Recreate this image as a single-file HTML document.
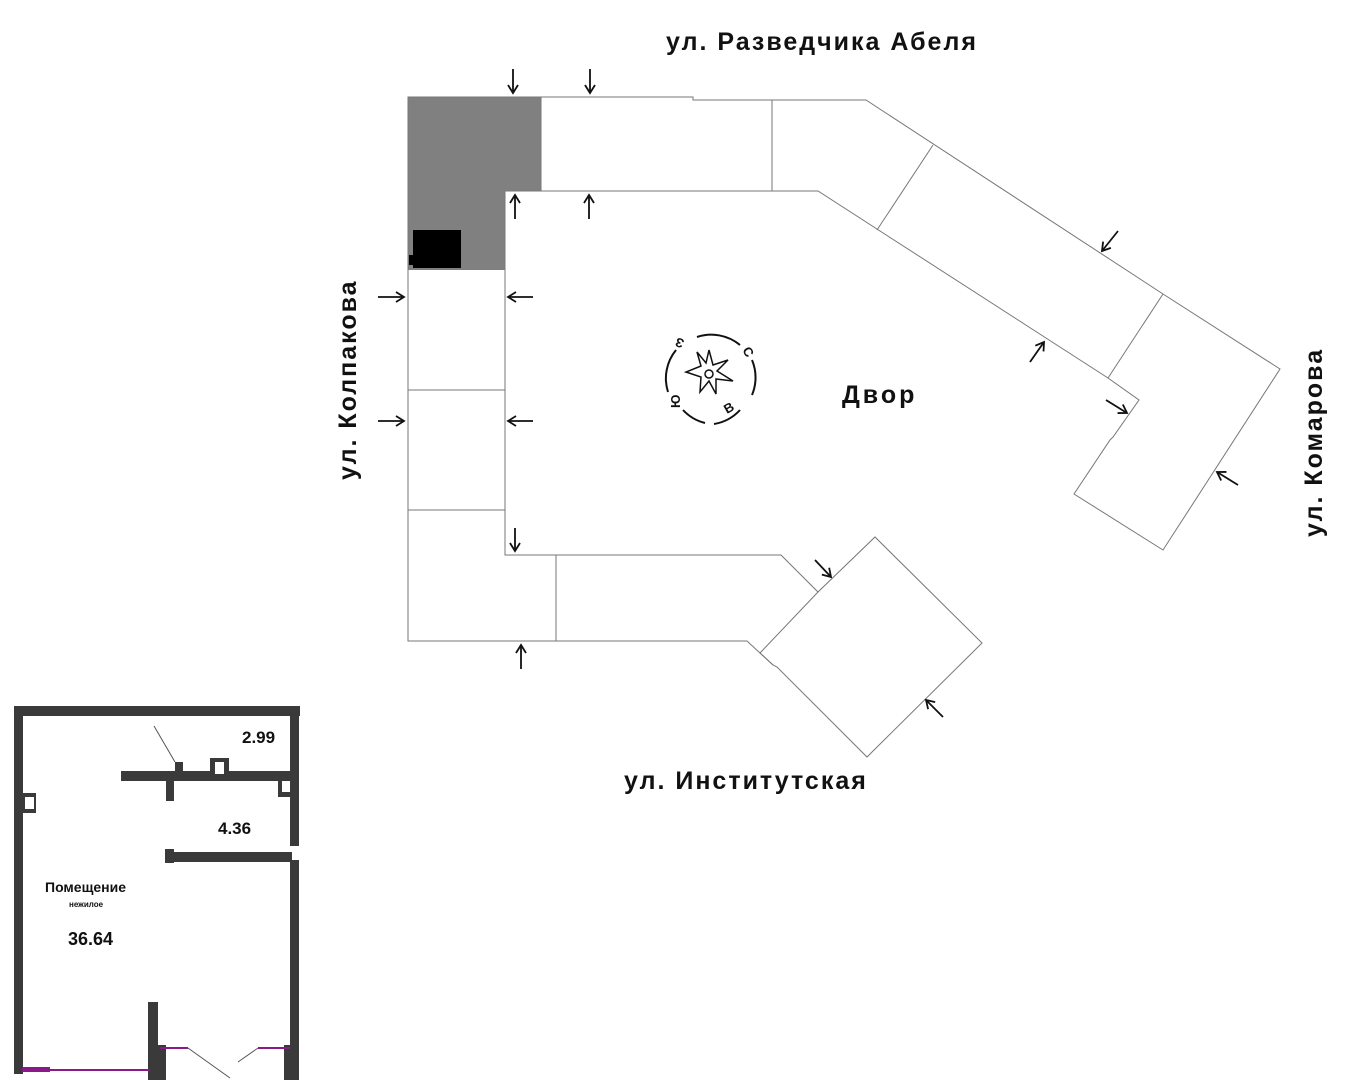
<!DOCTYPE html>
<html><head><meta charset="utf-8"><style>
html,body{margin:0;padding:0;background:#fff;}
body{width:1352px;height:1080px;overflow:hidden;position:relative;font-family:"Liberation Sans",sans-serif;}
</style></head><body>
<svg width="1352" height="1080" viewBox="0 0 1352 1080" xmlns="http://www.w3.org/2000/svg" style="position:absolute;left:0;top:0">
<defs>
<marker id="ah" markerWidth="12" markerHeight="12" refX="9" refY="6" orient="auto" markerUnits="userSpaceOnUse">
<path d="M1,1 L9,6 L1,11" fill="none" stroke="#111" stroke-width="1.8"/>
</marker>
</defs>
<polygon points="408,97 541,97 541,191 505,191 505,270 408,270" fill="#808080"/>
<rect x="413" y="230" width="48" height="38" fill="#000"/>
<rect x="409" y="255" width="6" height="10" fill="#000"/>
<g fill="none" stroke="#777" stroke-width="1">
<polygon points="408,97 693,97 693,100 866,100 1163,294 1280,369 1163,550 1074,494 1110,440 1113,437 1139,400 1108,378 818,191 505,191 505,555 781,555 818,592 875,537 982,643 867,757 777,667 773,665 747,641 408,641"/>
<line x1="541" y1="97" x2="541" y2="191"/>
<line x1="772" y1="100" x2="772" y2="191"/>
<line x1="933" y1="145" x2="877" y2="230"/>
<line x1="1163" y1="294" x2="1108" y2="378"/>
<line x1="408" y1="390" x2="505" y2="390"/>
<line x1="408" y1="510" x2="505" y2="510"/>
<line x1="556" y1="555" x2="556" y2="641"/>
<line x1="818" y1="592" x2="760" y2="653"/>
<line x1="760" y1="653" x2="773" y2="665"/>
</g>
<g stroke="#111" stroke-width="1.8" marker-end="url(#ah)">
<line x1="513" y1="69" x2="513" y2="93"/>
<line x1="590" y1="69" x2="590" y2="93"/>
<line x1="515" y1="219" x2="515" y2="195"/>
<line x1="589" y1="219" x2="589" y2="195"/>
<line x1="378" y1="297" x2="404" y2="297"/>
<line x1="378" y1="421" x2="404" y2="421"/>
<line x1="533" y1="297" x2="508" y2="297"/>
<line x1="533" y1="421" x2="508" y2="421"/>
<line x1="515" y1="528" x2="515" y2="551"/>
<line x1="521" y1="669" x2="521" y2="645"/>
<line x1="1118" y1="231" x2="1102" y2="251"/>
<line x1="1030" y1="362" x2="1044" y2="342"/>
<line x1="1106" y1="400" x2="1127" y2="413"/>
<line x1="1238" y1="485" x2="1217" y2="472"/>
<line x1="815" y1="560" x2="831" y2="577"/>
<line x1="943" y1="717" x2="926" y2="700"/>
</g>
<g fill="none" stroke="#111" stroke-width="2">
<path d="M697,337 A45,45 0 0 1 740,345"/>
<path d="M752,360 A45,45 0 0 1 752,395"/>
<path d="M740,410 A45,45 0 0 1 714,424"/>
<path d="M676,350 A45,45 0 0 0 668,392"/>
<path d="M683,410 A45,45 0 0 0 705,423"/>
<polygon points="709,350 713,365 728,360 717,371 733,381 716,379 716,394 709,381 700,392 701,377 686,372 701,366 697,352 706,363" stroke-width="1.5"/>
<circle cx="709" cy="374" r="4" stroke-width="1.5"/>
</g>
<g font-family="Liberation Sans,sans-serif" font-weight="bold" font-size="13" fill="#111">
<text x="742" y="350" transform="rotate(60 742 350)">С</text>
<text x="727" y="414" transform="rotate(-30 727 414)">В</text>
<text x="680" y="408" transform="rotate(-90 680 408)">Ю</text>
<text x="685" y="340" transform="rotate(200 685 340)">З</text>
</g>
<g font-family="Liberation Sans,sans-serif" font-weight="bold" fill="#111" letter-spacing="2">
<text x="666" y="50" font-size="25">ул. Разведчика Абеля</text>
<text x="842" y="403" font-size="25" letter-spacing="3">Двор</text>
<text x="624" y="789" font-size="25">ул. Институтская</text>
<text x="0" y="0" font-size="25" transform="translate(356,480) rotate(-90)">ул. Колпакова</text>
<text x="0" y="0" font-size="25" transform="translate(1322,537) rotate(-90)">ул. Комарова</text>
</g>
<g fill="#3a3a3a">
<rect x="14" y="706" width="286" height="10"/>
<rect x="14" y="706" width="9" height="368"/>
<rect x="290" y="706" width="9" height="140"/>
<rect x="290" y="860" width="9" height="220"/>
<rect x="121" y="771" width="171" height="10"/>
<rect x="175" y="762" width="8" height="19"/>
<rect x="166" y="781" width="8" height="20"/>
<rect x="210" y="758" width="19" height="20"/>
<rect x="278" y="778" width="14" height="19"/>
<rect x="22" y="793" width="14" height="20"/>
<rect x="165" y="849" width="9" height="14"/>
<rect x="165" y="852" width="127" height="10"/>
<rect x="148" y="1002" width="10" height="78"/>
<rect x="158" y="1045" width="8" height="35"/>
<rect x="284" y="1045" width="8" height="35"/>
</g>
<g fill="#fff">
<rect x="215" y="762" width="9" height="12"/>
<rect x="282" y="781" width="8" height="11"/>
<rect x="25" y="797" width="9" height="12"/>
</g>
<line x1="154" y1="726" x2="175" y2="762" stroke="#555" stroke-width="1"/>
<g stroke="#8a1a8a" stroke-width="2" fill="none">
<line x1="22" y1="1070" x2="150" y2="1070"/>
<line x1="160" y1="1048" x2="188" y2="1048"/>
<line x1="258" y1="1048" x2="290" y2="1048"/>
</g>
<rect x="22" y="1067" width="28" height="5" fill="#8a1a8a"/>
<line x1="188" y1="1048" x2="230" y2="1078" stroke="#555" stroke-width="1"/>
<line x1="258" y1="1048" x2="238" y2="1062" stroke="#555" stroke-width="1"/>
<g font-family="Liberation Sans,sans-serif" fill="#111" font-weight="bold">
<text x="242" y="743" font-size="17">2.99</text>
<text x="218" y="834" font-size="17">4.36</text>
<text x="45" y="892" font-size="14">Помещение</text>
<text x="69" y="907" font-size="8">нежилое</text>
<text x="68" y="945" font-size="18">36.64</text>
</g>
</svg>
</body></html>
